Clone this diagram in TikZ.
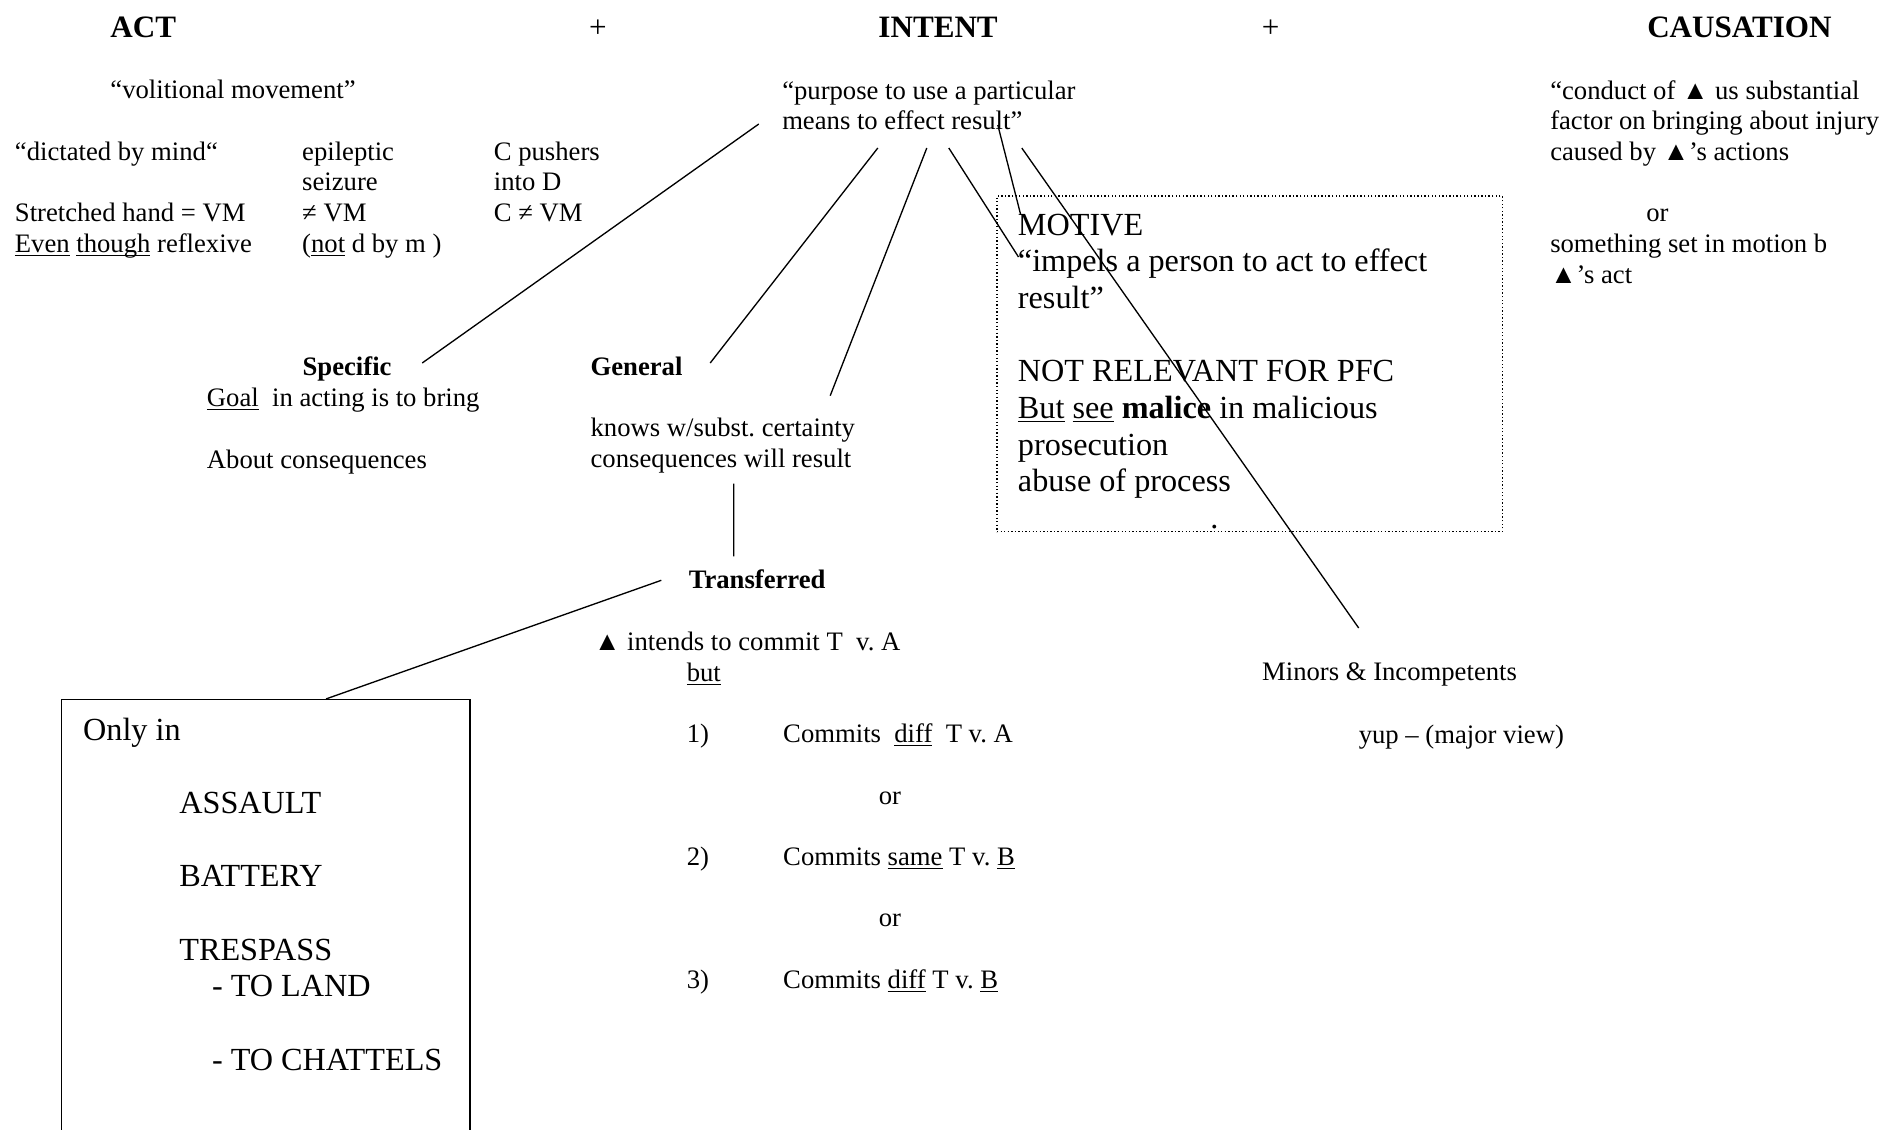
\documentclass[tikz,border=0pt]{standalone}
\usepackage{fontspec}
\setmainfont{Liberation Serif}
\usepackage{tikz}
\usetikzlibrary{calc}
\frenchspacing
\newcommand{\souligne}[1]{\underline{\smash{#1}}}

\begin{document}
\begin{tikzpicture}[x=0.45pt,y=-0.45pt]
	\tikzstyle{titre}=[anchor=base west,inner sep=0pt,font=\fontsize{14pt}{16.5pt}\selectfont\bfseries]
	\tikzstyle{plus}=[anchor=base,inner sep=0pt,font=\fontsize{14pt}{16.5pt}\selectfont]
	\tikzstyle{note}=[anchor=base west,inner sep=0pt,align=flush left,font=\fontsize{12pt}{13.8pt}\selectfont]
	\tikzstyle{grand}=[anchor=base west,inner sep=0pt,align=flush left,font=\fontsize{14.5pt}{16.5pt}\selectfont]
	\tikzstyle{cadre}=[draw,line width=0.6pt,inner sep=0pt]

	\useasboundingbox (0,0) rectangle (1883,1129);

	\node[titre] (act) at (110,37.3) {ACT};
	\node[plus] (plusa) at (598,37.3) {+};
	\node[titre] (intent) at (878,37.3) {INTENT};
	\node[plus] (plusb) at (1270.6,37.3) {+};
	\node[titre] (causation) at (1646.8,37.3) {CAUSATION};

	\node[note] (volition) at (110,98.3) {“volitional movement”};
	\node[note,text width=150pt] (mindcol) at (14.5,160) {“dictated by mind“\\
	\mbox{}\\ Stretched hand = VM\\ \souligne{Even} \souligne{though} reflexive};
	\node[note,text width=80pt] (seizcol) at (301.8,160) {epileptic\\ seizure\\
	≠ VM\\ (\souligne{not} d by m )};
	\node[note,text width=80pt] (pushcol) at (493.4,160) {C pushers\\ into D\\
	C ≠ VM};

	\node[note,text width=160pt] (purpose) at (781.8,99) {“purpose to use a
	particular\\ means to effect result”};
	\node[note,text width=180pt] (causedef) at (1549.8,99) {“conduct of ▲ us
	substantial\\ factor on bringing about injury\\ caused by ▲’s actions\\
	\mbox{}\\ \hspace*{43.2pt}or\\ something set in motion b\\ ▲’s act};

	\node[cadre,densely dotted,line width=0.5pt,minimum width=227.3pt,
	minimum height=151.1pt] (motivebox) at (1249.6,363.9) {};
	\node[grand,text width=215pt] (motive) at (1017.5,235) {MOTIVE\\ “impels a
	person to act to effect\\ result”\\ \mbox{}\\ NOT RELEVANT FOR PFC\\
	\souligne{But} \souligne{see} \textbf{malice} in malicious\\ prosecution\\
	abuse of process\\ \hspace*{86.6pt}.};

	\node[note,font=\fontsize{12pt}{13.8pt}\selectfont\bfseries] (specific) at (302.2,375) {Specific};
	\node[note,text width=150pt] (goal) at (206.5,406.7) {\souligne{Goal}\ \ in
	acting is to bring\\ \mbox{}\\ About consequences};
	\node[note,font=\fontsize{12pt}{13.8pt}\selectfont\bfseries] (general) at (590.2,375) {General};
	\node[note,text width=150pt] (knows) at (590.2,436.7) {knows w/subst.
	certainty\\ consequences will result};

	\node[note,font=\fontsize{12pt}{13.8pt}\selectfont\bfseries] (transferred) at (688.3,588.3) {Transferred};
	\node[note,text width=250pt] (transtext) at (593.7,650.7) {▲ intends to
	commit T\ \ v. A\\ \hspace*{41.7pt}\souligne{but}\\ \mbox{}\\
	\hspace*{41.7pt}\makebox[43.4pt][l]{1)}Commits\ \ \souligne{diff}\ \ T v. A\\
	\mbox{}\\ \hspace*{128.1pt}or\\ \mbox{}\\
	\hspace*{41.7pt}\makebox[43.4pt][l]{2)}Commits \souligne{same} T v. \souligne{B}\\
	\mbox{}\\ \hspace*{128.1pt}or\\ \mbox{}\\
	\hspace*{41.7pt}\makebox[43.4pt][l]{3)}Commits \souligne{diff} T v. \souligne{B}};

	\node[note] (minors) at (1261.7,680) {Minors \& Incompetents};
	\node[note] (yup) at (1358.3,743.3) {yup – (major view)};

	\node[cadre,minimum width=183.7pt,minimum height=198.2pt] (onlybox)
	at (265.85,919.8) {};
	\node[grand,text width=175pt] (onlytext) at (82.7,740.2) {Only in\\ \mbox{}\\
	\hspace*{43.3pt}ASSAULT\\ \mbox{}\\ \hspace*{43.3pt}BATTERY\\ \mbox{}\\
	\hspace*{43.3pt}TRESPASS\\ \hspace*{58pt}- TO LAND\\ \mbox{}\\
	\hspace*{58pt}- TO CHATTELS};

	\tikzstyle{branche}=[line width=0.6pt]

	\draw[branche] ($(purpose.base west)+(-23,25)$) -- ($(specific.base west)+(120,-12)$);
	\draw[branche] ($(purpose.base west)+(96,49)$) -- ($(general.base west)+(120,-12)$);
	\draw[branche] ($(purpose.base west)+(145,49)$) -- ($(knows.base west)+(240,-41)$);
	\draw[branche] ($(purpose.base west)+(167,49)$) -- ($(motive.base west)+(1,22)$);
	\draw[branche] ($(purpose.base west)+(216,26)$) -- ($(motive.base west)+(3,-21)$);
	\draw[branche] ($(purpose.base west)+(240,49)$) -- ($(minors.base west)+(97,-52)$);
	\draw[branche] ($(knows.base west)+(143.5,47)$) -- ($(transferred.base west)+(45.5,-32)$);
	\draw[branche] ($(transferred.base west)+(-27,-8)$) -- ($(onlybox.north west)+(265,0)$);
\end{tikzpicture}
\end{document}
